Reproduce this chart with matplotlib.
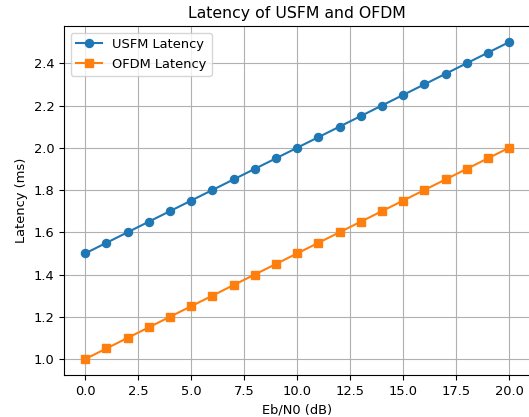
import matplotlib
matplotlib.use("Agg")
import matplotlib.pyplot as plt

ebn0_db = [0, 1, 2, 3, 4, 5, 6, 7, 8, 9, 10, 11, 12, 13, 14, 15, 16, 17, 18, 19, 20]
usfm_latency = [1.50, 1.55, 1.60, 1.65, 1.70, 1.75, 1.80, 1.85, 1.90, 1.95, 2.00,
                2.05, 2.10, 2.15, 2.20, 2.25, 2.30, 2.35, 2.40, 2.45, 2.50]
ofdm_latency = [1.00, 1.05, 1.10, 1.15, 1.20, 1.25, 1.30, 1.35, 1.40, 1.45, 1.50,
                1.55, 1.60, 1.65, 1.70, 1.75, 1.80, 1.85, 1.90, 1.95, 2.00]

plt.rcParams["font.size"] = 9.4

fig = plt.figure(figsize=(5.29, 4.17), dpi=100)
# right spine sits just past the image edge, as in the reference
ax = fig.add_axes([0.121, 0.101, 0.8815, 0.836])
ax.spines["right"].set_visible(False)
ax.plot(ebn0_db, usfm_latency, marker="o", markersize=5.8, label="USFM Latency")
ax.plot(ebn0_db, ofdm_latency, marker="s", markersize=5.8, label="OFDM Latency")
ax.set_title("Latency of USFM and OFDM", fontsize=11.3)
ax.set_xlabel("Eb/N0 (dB)")
ax.set_ylabel("Latency (ms)")
ax.legend(loc="upper left")
ax.grid(True)

fig.savefig("out.png", dpi=100)
